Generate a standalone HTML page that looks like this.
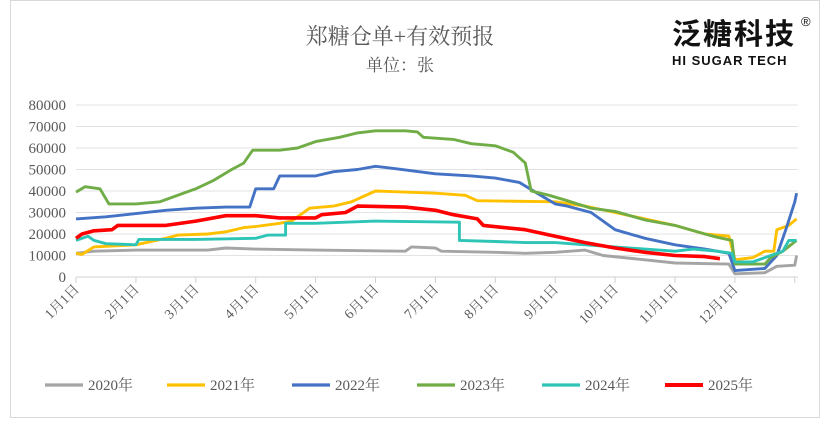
<!DOCTYPE html>
<html><head><meta charset="utf-8"><style>
html,body{margin:0;padding:0;background:#fff;}
body{width:830px;height:419px;overflow:hidden;position:relative;font-family:"Liberation Serif","Noto Serif CJK SC",serif;}
</style></head><body>
<svg id="s" width="830" height="419" xmlns="http://www.w3.org/2000/svg">
<rect x="10.5" y="0.5" width="809" height="417" fill="#fff" stroke="#d9d9d9"/>
<text x="400" y="44" text-anchor="middle" font-size="22" fill="#595959" font-family="Liberation Serif, Noto Serif CJK SC, serif">郑糖仓单+有效预报</text>
<text x="400" y="71" text-anchor="middle" font-size="17" fill="#595959" font-family="Liberation Serif, Noto Serif CJK SC, serif">单位：张</text>
<text x="672" y="44" font-size="29" font-weight="bold" fill="#111" font-family="Noto Sans CJK SC, sans-serif" letter-spacing="2">泛糖科技</text>
<text x="801" y="26" font-size="13" fill="#111" font-family="Liberation Sans, sans-serif">®</text>
<text x="672" y="65" font-size="13" font-weight="bold" fill="#111" font-family="Liberation Sans, sans-serif" letter-spacing="1">HI SUGAR TECH</text>
<g id="grid"></g>
<g id="lines"></g>
<g id="legend" font-size="15" fill="#595959"></g>
</svg>
<script>
const NS="http://www.w3.org/2000/svg",s=document.getElementById('s');
const X=m=>76+m*59.9, Y=v=>277-v*172/80000;
const g=document.getElementById('grid');
function el(p,t,a,txt){const e=document.createElementNS(NS,t);for(const k in a)e.setAttribute(k,a[k]);if(txt)e.textContent=txt;p.appendChild(e);return e;}
for(let i=0;i<=8;i++){const y=Y(i*10000);
 el(g,'line',{x1:76,x2:798,y1:y,y2:y,stroke:i?'#e3e3e3':'#d0d0d0','stroke-width':1});
 el(g,'text',{x:66,y:y+5,'text-anchor':'end','font-size':15,fill:'#595959'},String(i*10000));}
for(let m=0;m<=12;m++){const x=X(m);el(g,'line',{x1:x,x2:x,y1:277,y2:283,stroke:'#d0d0d0'});
 if(m<12){el(g,'text',{x:x+4,y:290,'text-anchor':'end','font-size':14,fill:'#595959',transform:`rotate(-45 ${x+4} 290)`},(m+1)+'月1日');}}
const D={
'#a5a5a5':[[0,11000],[0.3,12000],[1,12500],[2.2,12500],[2.5,13500],[3,13000],[4,12500],[5.5,12000],[5.6,14000],[6,13500],[6.1,12000],[7,11500],[7.5,11000],[8,11500],[8.5,12500],[8.8,10000],[9.5,8000],[10,6500],[10.9,6000],[11,1500],[11.5,2000],[11.7,5000],[12,5500],[12.03,10000]],
'#ffc000':[[0,11000],[0.1,10500],[0.3,14000],[1,15000],[1.5,18000],[1.7,19500],[2.2,20000],[2.5,21000],[2.8,23000],[3,23500],[3.4,25000],[3.6,26000],[3.9,32000],[4.3,33000],[4.6,35000],[5,40000],[6,39000],[6.5,38000],[6.7,35500],[8,35000],[8.5,33000],[9,30000],[9.5,27000],[10,24000],[10.5,20000],[10.9,19000],[11,8000],[11.3,9000],[11.5,12000],[11.65,12000],[11.7,22000],[11.9,24000],[12.03,27000]],
'#4472c4':[[0,27000],[0.5,28000],[1,29500],[1.5,31000],[2,32000],[2.5,32500],[2.9,32500],[3,41000],[3.3,41000],[3.4,47000],[4,47000],[4.3,49000],[4.7,50000],[5,51500],[5.3,50500],[6,48000],[6.6,47000],[7,46000],[7.4,44000],[7.7,39000],[8,34000],[8.2,33000],[8.6,30000],[9,22000],[9.5,18000],[10,15000],[10.5,13000],[10.9,11000],[11,3000],[11.5,4000],[11.7,10000],[11.85,22000],[12,35000],[12.03,39000]],
'#70ad47':[[0,39500],[0.15,42000],[0.4,41000],[0.55,34000],[1,34000],[1.4,35000],[1.7,38000],[2,41000],[2.3,45000],[2.6,50000],[2.8,53000],[2.95,59000],[3.4,59000],[3.7,60000],[4,63000],[4.4,65000],[4.7,67000],[5,68000],[5.5,68000],[5.7,67500],[5.8,65000],[6.3,64000],[6.6,62000],[7,61000],[7.3,58000],[7.5,53000],[7.6,40000],[7.9,38000],[8.2,35500],[8.6,32000],[9,30500],[9.5,26500],[10,24000],[10.5,20000],[10.7,18500],[10.95,17000],[11,6000],[11.5,6000],[11.6,9000],[11.8,12000],[12.03,17000]],
'#2ec4b6':[[0,17000],[0.2,19000],[0.3,17000],[0.5,15500],[1,15000],[1.05,17500],[2,17500],[3,18000],[3.2,19500],[3.5,19500],[3.5,25000],[4,25000],[5,26000],[6.4,25500],[6.4,17000],[7,16500],[7.5,16000],[8,16000],[8.5,15000],[9,14000],[9.5,13000],[10,12000],[10.3,13000],[10.7,12000],[10.95,11000],[11,7000],[11.3,7000],[11.5,9000],[11.8,12000],[11.9,17000],[12.03,17000]],
'#ff0000':[[0,18000],[0.1,20000],[0.3,21500],[0.6,22000],[0.7,24000],[1.5,24000],[2,26000],[2.5,28500],[3,28500],[3.4,27500],[4,27500],[4.1,29000],[4.5,30000],[4.7,33000],[5.5,32500],[6,31000],[6.3,29000],[6.7,27000],[6.8,24000],[7.5,22000],[8,19000],[8.5,16000],[9,13500],[9.5,11500],[10,10000],[10.5,9500],[10.75,8500]]};
const L=document.getElementById('lines');
for(const c in D)el(L,'polyline',{points:D[c].map(p=>X(p[0]).toFixed(1)+','+Y(p[1]).toFixed(1)).join(' '),fill:'none',stroke:c,'stroke-width':c=='#ff0000'?3.6:2.9,'stroke-linejoin':'round'});
const names=['2020年','2021年','2022年','2023年','2024年','2025年'],cols=Object.keys(D),lx=[45,167,292,417,542,665];
const lg=document.getElementById('legend');
names.forEach((n,i)=>{el(lg,'line',{x1:lx[i],x2:lx[i]+38,y1:385,y2:385,stroke:cols[i],'stroke-width':cols[i]=='#ff0000'?4:3.2});el(lg,'text',{x:lx[i]+43,y:390},n);});
</script>
</body></html>
